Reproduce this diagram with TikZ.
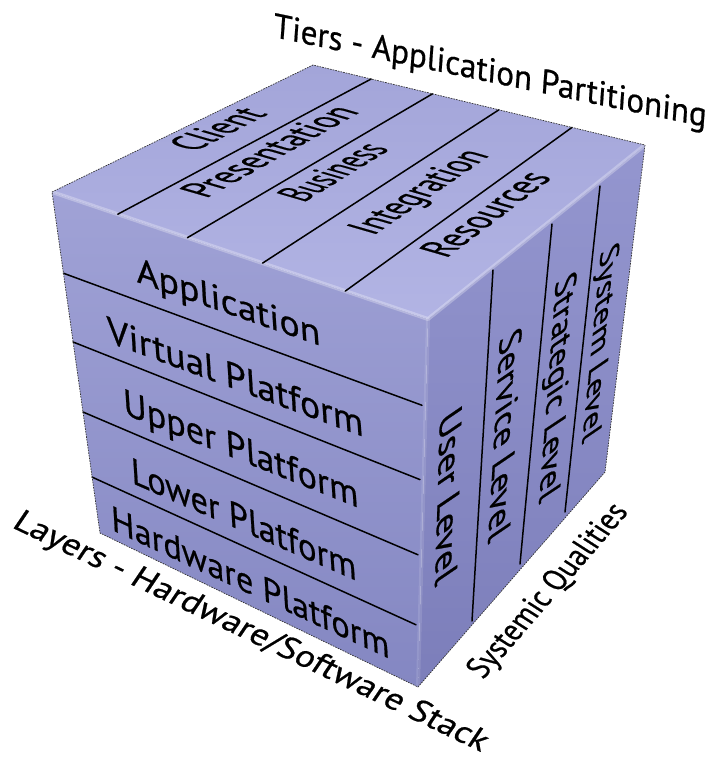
\documentclass[tikz,border=0pt]{standalone}
\usepackage{fontspec}
\setmainfont{PT Sans}[FakeBold=0.6]
\definecolor{topa}{RGB}{163,165,217}
\definecolor{topb}{RGB}{178,180,228}
\definecolor{lefta}{RGB}{160,162,214}
\definecolor{leftb}{RGB}{132,135,194}
\definecolor{righta}{RGB}{148,150,207}
\definecolor{rightb}{RGB}{124,126,186}
\tikzset{
  divider/.style={line width=1.5pt, black, line cap=round},
  lbl/.style={anchor=base west, inner sep=0pt, outer sep=0pt, text=black},
  bevel/.style={white, opacity=0.28, line width=4pt, line cap=round, line join=round},
  sil/.style={black!80, line width=0.7pt, dash pattern=on 1.6pt off 1.1pt, line join=round}
}
% #1 name, (#2,#3) baseline start, (#4,#5) baseline end, (#6,#7) up vector (cap height), #8 text
\newcommand\ftext[8]{%
  \pgfmathsetmacro\fw{width("#8")}%
  \pgfmathsetmacro\fca{((#4)-(#2))/\fw}%
  \pgfmathsetmacro\fcb{-((#5)-(#3))/\fw}%
  \pgfmathsetmacro\fcc{(#6)/\capH}%
  \pgfmathsetmacro\fcd{-(#7)/\capH}%
  \node[lbl,cm={\fca,\fcb,\fcc,\fcd,(0,0)}] (#1) at (#2,#3) {#8};%
}
\begin{document}
\begin{tikzpicture}[x=1pt,y=-1pt]
\useasboundingbox (0,0) rectangle (715,758);
\pgfmathsetmacro\capH{height("H")}
% cube corners
\coordinate (L) at (52,192);
\coordinate (B) at (313,65);
\coordinate (R) at (645,145);
\coordinate (F) at (428,319);
\coordinate (BL) at (100,533);
\coordinate (BF) at (418,687);
\coordinate (BR) at (605,472);
% faces
\shade[top color=topa, bottom color=topb] (L) -- (B) -- (R) -- (F) -- cycle;
\shade[top color=lefta, bottom color=leftb] (L) -- (F) -- (BF) -- (BL) -- cycle;
\shade[top color=righta, bottom color=rightb] (F) -- (R) -- (BR) -- (BF) -- cycle;
\draw[bevel] (L) -- (F) -- (R);
\draw[bevel, opacity=0.12] (F) -- (BF);
% top face dividers
\coordinate (t1f) at (117.8,214.2); \coordinate (t1b) at (371.1,79.0);
\coordinate (t2f) at (187.4,237.7); \coordinate (t2b) at (432.5,93.8);
\coordinate (t3f) at (262.6,263.1); \coordinate (t3b) at (498.9,109.8);
\coordinate (t4f) at (345.3,291.1); \coordinate (t4b) at (572.0,127.4);
\draw[divider] (t1f) -- (t1b);
\draw[divider] (t2f) -- (t2b);
\draw[divider] (t3f) -- (t3b);
\draw[divider] (t4f) -- (t4b);
% left face dividers
\coordinate (l1a) at (63.4,273.2); \coordinate (l1b) at (422,405.3);
\coordinate (l2a) at (73.1,342.0); \coordinate (l2b) at (420,479.6);
\coordinate (l3a) at (83.0,412.0); \coordinate (l3b) at (418,554.8);
\coordinate (l4a) at (92.1,477.1); \coordinate (l4b) at (416,624.8);
\draw[divider] (l1a) -- (l1b);
\draw[divider] (l2a) -- (l2b);
\draw[divider] (l3a) -- (l3b);
\draw[divider] (l4a) -- (l4b);
% right face dividers
\coordinate (r1a) at (493,270); \coordinate (r1b) at (472,621);
\coordinate (r2a) at (552,224); \coordinate (r2b) at (520,564);
\coordinate (r3a) at (600,186); \coordinate (r3b) at (565,512);
\draw[divider] (r1a) -- (r1b);
\draw[divider] (r2a) -- (r2b);
\draw[divider] (r3a) -- (r3b);
% silhouette
\draw[sil] (L) -- (B) -- (R) -- (BR) -- (BF) -- (BL) -- cycle;
% axis labels
\ftext{tiers}{273}{37}{706}{127}{1.7}{-24}{Tiers - Application Partitioning}
\ftext{layers}{11}{527}{481}{752}{12.5}{-18.5}{Layers - Hardware/Software Stack}
\ftext{sysq}{483}{680}{629}{512}{-19.5}{-12.5}{Systemic Qualities}
% left face
\ftext{app}{137}{282}{321}{346}{-1.5}{-25}{Application}
\ftext{virt}{108}{342}{364}{437}{-1.6}{-26}{Virtual Platform}
\ftext{upper}{124}{414}{359}{508}{-1.6}{-26}{Upper Platform}
\ftext{lower}{132}{483}{357}{581}{-1.6}{-26}{Lower Platform}
\ftext{hw}{112}{530}{390}{659}{-1.5}{-25}{Hardware Platform}
% top face
\ftext{client}{194}{152}{268.5}{114}{-29}{-8.4}{Client}
\ftext{pres}{206}{198.5}{360.6}{112}{-29}{-8.4}{Presentation}
\ftext{bus}{303.6}{202.6}{390.4}{149.2}{-29}{-8.4}{Business}
\ftext{integ}{373.4}{235.7}{490.1}{155.4}{-29}{-8.4}{Integration}
\ftext{res}{446.1}{258.4}{552.8}{177.6}{-29}{-8.4}{Resources}
% right face
\ftext{user}{440}{418}{435}{588}{22}{-15}{User Level}
\ftext{service}{500}{339}{488}{545}{22}{-15}{Service Level}
\ftext{strat}{556}{282}{539}{505}{21}{-14}{Strategic Level}
\ftext{system}{601}{252}{582}{445}{19}{-13}{System Level}
\end{tikzpicture}
\end{document}
